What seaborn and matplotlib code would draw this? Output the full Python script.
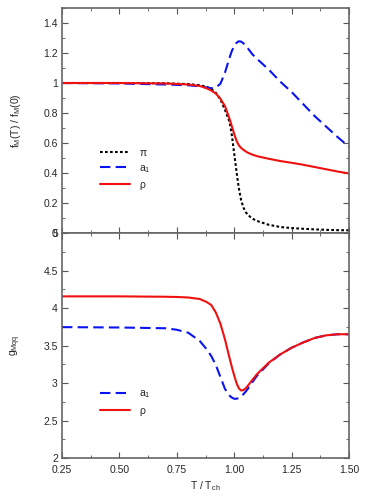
import pandas as pd
import matplotlib.pyplot as plt
import seaborn as sns
from matplotlib.ticker import MultipleLocator

# top panel: decay constants f_M(T)/f_M(0)
t_top = [0.25, 0.5, 0.7, 0.8, 0.85, 0.88, 0.9, 0.92, 0.94, 0.96, 0.98, 0.99, 1.0, 1.01, 1.02,
         1.03, 1.04, 1.05, 1.06, 1.08, 1.1, 1.15, 1.2, 1.25, 1.3, 1.35, 1.4, 1.45, 1.5]
f_pi = [1.0, 1.0, 0.998, 0.993, 0.985, 0.975, 0.96, 0.935, 0.89, 0.82, 0.74, 0.65, 0.53, 0.41, 0.3,
        0.22, 0.17, 0.14, 0.12, 0.095, 0.08, 0.055, 0.04, 0.033, 0.028, 0.024, 0.021, 0.019, 0.018]
f_a1 = [1.0, 0.997, 0.99, 0.985, 0.978, 0.97, 0.965, 0.97, 0.995, 1.07, 1.17, 1.215, 1.245, 1.268, 1.278,
        1.276, 1.265, 1.25, 1.23, 1.19, 1.16, 1.09, 1.01, 0.94, 0.86, 0.78, 0.71, 0.64, 0.575]
f_rho = [1.0, 1.0, 0.997, 0.99, 0.98, 0.965, 0.95, 0.93, 0.895, 0.845, 0.76, 0.71, 0.66, 0.615, 0.585,
         0.567, 0.555, 0.544, 0.535, 0.522, 0.512, 0.495, 0.48, 0.468, 0.455, 0.44, 0.425, 0.41, 0.397]

# bottom panel: couplings g_Mqq
t_bot = [0.25, 0.5, 0.7, 0.75, 0.8, 0.85, 0.88, 0.9, 0.92, 0.94, 0.96, 0.98, 0.99, 1.0, 1.01, 1.02,
         1.03, 1.04, 1.05, 1.06, 1.08, 1.1, 1.15, 1.2, 1.25, 1.3, 1.35, 1.4, 1.45, 1.5]
g_rho = [4.155, 4.155, 4.15, 4.147, 4.14, 4.12, 4.08, 4.04, 3.94, 3.79, 3.58, 3.33, 3.21, 3.1, 3.0, 2.93,
         2.9, 2.905, 2.93, 2.965, 3.045, 3.12, 3.27, 3.38, 3.47, 3.54, 3.6, 3.635, 3.65, 3.65]
g_a1 = [3.745, 3.74, 3.73, 3.71, 3.67, 3.56, 3.45, 3.36, 3.24, 3.08, 2.92, 2.83, 2.805, 2.79, 2.79, 2.8,
        2.82, 2.85, 2.885, 2.925, 3.015, 3.1, 3.26, 3.38, 3.47, 3.54, 3.6, 3.635, 3.65, 3.65]

top = pd.DataFrame({'T': t_top, 'pi': f_pi, 'a1': f_a1, 'rho': f_rho})
bot = pd.DataFrame({'T': t_bot, 'a1': g_a1, 'rho': g_rho})

sns.set_style('ticks')
plt.rcParams['font.family'] = ['Liberation Sans', 'DejaVu Sans']
plt.rcParams['mathtext.fontset'] = 'custom'
plt.rcParams['mathtext.rm'] = 'Liberation Sans'
plt.rcParams['mathtext.it'] = 'Liberation Sans'
fs = 7.5

fig = plt.figure(figsize=(3.74, 4.98), dpi=100)
ax1 = fig.add_axes([62 / 374, 1 - 233 / 498, 287 / 374, 225 / 498])
ax2 = fig.add_axes([62 / 374, 1 - 458 / 498, 287 / 374, 225 / 498])

lw = 1.5
dash = (0, (5, 2.5))
sns.lineplot(data=top, x='T', y='pi', ax=ax1, color='black', lw=lw, linestyle=(0, (1.3, 1.1)), label=r'$\pi$')
sns.lineplot(data=top, x='T', y='a1', ax=ax1, color='#0a14f0', lw=lw, linestyle=dash, label='a$_1$')
sns.lineplot(data=top, x='T', y='rho', ax=ax1, color='#f01010', lw=lw, label=r'$\rho$')

sns.lineplot(data=bot, x='T', y='a1', ax=ax2, color='#0a14f0', lw=lw, linestyle=dash, label='a$_1$')
sns.lineplot(data=bot, x='T', y='rho', ax=ax2, color='#f01010', lw=lw, label=r'$\rho$')

ax1.set_xlim(0.25, 1.5)
ax1.set_ylim(0, 1.5)
ax2.set_xlim(0.25, 1.5)
ax2.set_ylim(2, 5)

ax1.set_yticks([0, 0.2, 0.4, 0.6, 0.8, 1.0, 1.2, 1.4])
ax1.set_yticklabels(['0', '0.2', '0.4', '0.6', '0.8', '1', '1.2', '1.4'])
ax1.yaxis.set_minor_locator(MultipleLocator(0.1))
ax2.set_yticks([2, 2.5, 3, 3.5, 4, 4.5, 5])
ax2.set_yticklabels(['2', '2.5', '3', '3.5', '4', '4.5', '5'])
ax2.yaxis.set_minor_locator(MultipleLocator(0.25))
for ax in (ax1, ax2):
    ax.set_xticks([0.25, 0.5, 0.75, 1.0, 1.25, 1.5])
    ax.xaxis.set_minor_locator(MultipleLocator(0.125))
    ax.tick_params(which='both', direction='in', top=True, right=True,
                   labelsize=fs, color='#555555', pad=3)
    ax.tick_params(which='major', length=4, width=0.8)
    ax.tick_params(which='minor', length=2, width=0.6)
    for s in ax.spines.values():
        s.set_color('#666666')
        s.set_linewidth(1.2)
ax2.set_xticklabels(['0.25', '0.50', '0.75', '1.00', '1.25', '1.50'])
ax2.tick_params(axis='x', which='major', pad=5)
ax1.tick_params(labelbottom=False)

ax1.set_xlabel('')
ax1.set_ylabel('f$_\\mathregular{M}$(T) / f$_\\mathregular{M}$(0)', fontsize=fs, labelpad=10)
ax2.set_ylabel('g$_\\mathregular{Mqq}$', fontsize=fs, labelpad=10)
ax2.set_xlabel('T / T$_\\mathregular{ch}$', fontsize=fs, labelpad=3)
ax1.yaxis.set_label_coords(-0.135, 0.5)
ax2.yaxis.set_label_coords(-0.135, 0.5)

leg_kw = dict(frameon=False, fontsize=fs, handlelength=2.9, handletextpad=0.8,
              labelspacing=0.5)
ax1.legend(loc='upper left', bbox_to_anchor=(0.1, 0.42), **leg_kw)
ax2.legend(loc='upper left', bbox_to_anchor=(0.1, 0.35), **leg_kw)

fig.savefig('out.png', dpi=100)
